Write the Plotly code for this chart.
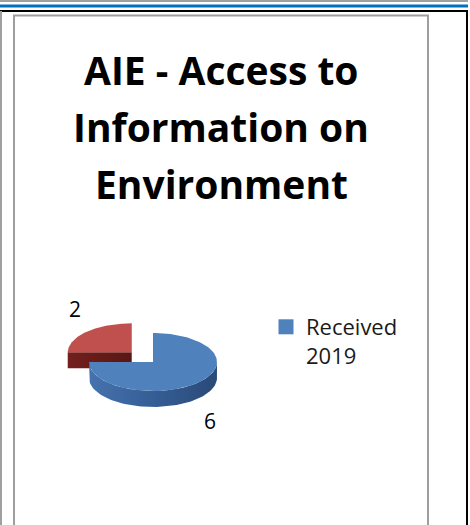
import numpy as np
import plotly.graph_objects as go

# ---- data ----
categories = ["Received 2019", "Other"]
values = [6, 2]
slice_colors_top = ["#4F81BD", "#C0504D"]
slice_colors_side = [["#4672AD", "#345C93", "#2A4A77"], ["#731F1D", "#651A18", "#5A1614"]]
pulls = [0.0, 0.47]
label_text = [str(v) for v in values]
title_lines = ["AIE - Access to", "Information on", "Environment"]

W, H = 470, 525
cx, cy, rx, ry, depth = 153, 362, 64, 29, 16
lab_rx, lab_ry = 80, 61
FONT = "Open Sans"

fig = go.Figure()

total = float(sum(values))
angles = np.cumsum([0] + [v / total * 360 for v in values])


def rim(ccx, ccy, th, dz=0.0):
    t = np.radians(th)
    return ccx + rx * np.sin(t), ccy - ry * np.cos(t) + dz


slices = []
for i, v in enumerate(values):
    a1, a2 = angles[i], angles[i + 1]
    mid = (a1 + a2) / 2
    t = np.radians(mid)
    scx = cx + pulls[i] * rx * np.sin(t)
    scy = cy - pulls[i] * ry * np.cos(t)
    slices.append(dict(i=i, a1=a1, a2=a2, mid=mid, cx=scx, cy=scy))

# painter's order: back (smaller y) first
for s in sorted(slices, key=lambda d: d["cy"]):
    i, a1, a2, scx, scy = s["i"], s["a1"], s["a2"], s["cx"], s["cy"]
    side = slice_colors_side[i]
    side_scale = [[0, side[0]], [0.55, side[1]], [1, side[2]]]
    walls = []
    # radial wall at start edge
    if np.cos(np.radians(a1 - 90)) < -1e-9:
        px, py = rim(scx, scy, a1)
        walls.append(([scx, px, px, scx, scx], [scy, py, py + depth, scy + depth, scy]))
    # radial wall at end edge
    if np.cos(np.radians(a2 + 90)) < -1e-9:
        px, py = rim(scx, scy, a2)
        walls.append(([scx, px, px, scx, scx], [scy, py, py + depth, scy + depth, scy]))
    # outer wall (front half only)
    lo, hi = max(a1, 90), min(a2, 270)
    if hi > lo:
        th = np.linspace(lo, hi, 80)
        tx, ty = rim(scx, scy, th)
        bx, by = rim(scx, scy, th[::-1], depth)
        walls.append((np.concatenate([tx, bx, tx[:1]]), np.concatenate([ty, by, ty[:1]])))
    for wx, wy in walls:
        fig.add_trace(go.Scatter(
            x=wx, y=wy, mode="lines", fill="toself",
            line=dict(width=0, color=side[1]),
            fillgradient=dict(type="horizontal", colorscale=side_scale),
            hoverinfo="skip", showlegend=False))
    # top face
    th = np.linspace(a1, a2, 120)
    tx, ty = rim(scx, scy, th)
    fx = np.concatenate([[scx], tx, [scx]])
    fy = np.concatenate([[scy], ty, [scy]])
    top = slice_colors_top[i]
    fig.add_trace(go.Scatter(
        x=fx, y=fy, mode="lines", fill="toself",
        line=dict(width=0, color=top), fillcolor=top,
        name=categories[i], hoverinfo="text",
        text=f"{categories[i]}: {values[i]}", showlegend=False))

# data labels
for s in slices:
    t = np.radians(s["mid"])
    lx = s["cx"] + lab_rx * np.sin(t)
    ly = s["cy"] - lab_ry * np.cos(t) + (depth if np.cos(t) < 0 else 0)
    fig.add_annotation(x=lx, y=ly, text=label_text[s["i"]], showarrow=False,
                       font=dict(family=FONT, size=21, color="#000000"),
                       xanchor="center", yanchor="middle")

# legend entry (only the first category is visible in the reference)
fig.add_trace(go.Scatter(
    x=[None], y=[None], mode="markers",
    marker=dict(symbol="square", size=15, color=slice_colors_top[0]),
    name="Received<br>2019", showlegend=True))

# title lines
for k, line in enumerate(title_lines):
    fig.add_annotation(x=221, y=69 + 57 * k, text=f"<b>{line}</b>", showarrow=False,
                       font=dict(family=FONT, size=39, color="#000000"),
                       xanchor="center", yanchor="middle")

# page decoration / chart border
gray = "#A0A0A0"
shapes = [
    dict(type="line", x0=0, x1=468, y0=1, y1=1, line=dict(color=gray, width=2)),
    dict(type="line", x0=0, x1=468, y0=6, y1=6, line=dict(color="#0070C0", width=3)),
    dict(type="line", x0=0, x1=468, y0=11, y1=11, line=dict(color="#000000", width=2)),
    dict(type="line", x0=467, x1=467, y0=10, y1=530, line=dict(color="#000000", width=2)),
    dict(type="line", x0=1, x1=1, y0=11, y1=530, line=dict(color=gray, width=2)),
    dict(type="rect", x0=14, x1=428, y0=15.5, y1=540, line=dict(color="#9E9E9E", width=2)),
]
for sh in shapes:
    sh.update(xref="x", yref="y", layer="below")
    fig.add_shape(**sh)

fig.update_layout(
    width=W, height=H,
    margin=dict(l=0, r=0, t=0, b=0, pad=0),
    paper_bgcolor="white", plot_bgcolor="white",
    xaxis=dict(range=[0, W], visible=False, fixedrange=True),
    yaxis=dict(range=[H, 0], visible=False, fixedrange=True),
    showlegend=True,
    legend=dict(x=266 / W, y=1 - 306 / H, xanchor="left", yanchor="top",
                valign="top", bgcolor="rgba(0,0,0,0)",
                font=dict(family=FONT, size=22, color="#1A1A1A")),
)

fig.write_html("out.html",
               config={"displayModeBar": False},
               post_script="document.body.style.margin='0';document.body.style.overflow='hidden';")
